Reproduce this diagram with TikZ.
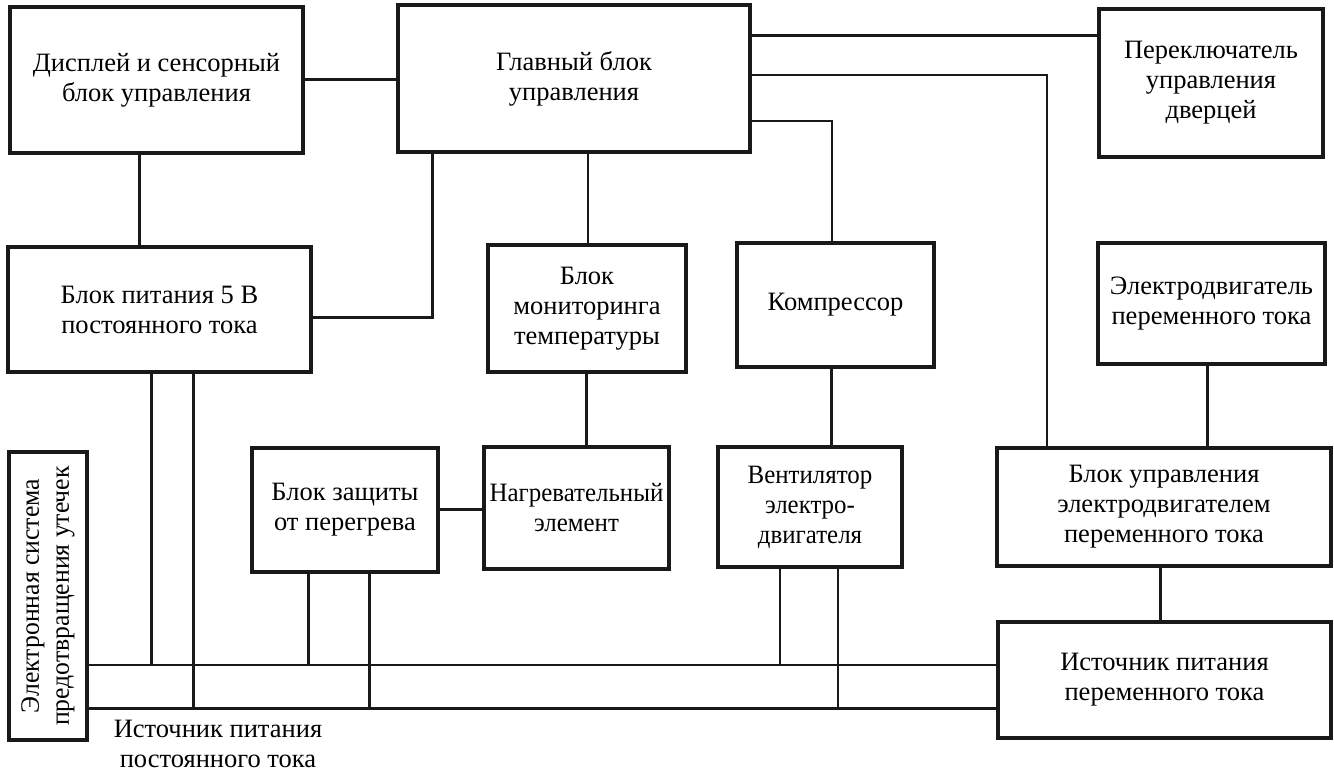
\documentclass[tikz,border=0pt]{standalone}
\usepackage{fontspec}
\usepackage{graphicx}
\setmainfont{Liberation Serif}
\newcommand{\narrow}[1]{\scalebox{0.94}[1]{#1}}
\begin{document}
\begin{tikzpicture}[x=1pt,y=-1pt,
  box/.style={draw=black!90, line width=3.2pt, inner sep=0pt, align=center, rectangle, text=black},
  wire/.style={draw=black!90, line width=3.0pt},
  thin wire/.style={draw=black!90, line width=2.6pt},
  font=\fontsize{26.5}{30}\selectfont]
\useasboundingbox (0,0) rectangle (1334,774);
\node[box, minimum width=293, minimum height=146] (disp) at (156.5,80) {Дисплей и сенсорный\\блок управления};
\node[box, minimum width=352, minimum height=147] (main) at (574,78.5) {Главный блок\\управления};
\node[box, minimum width=224, minimum height=148] (switch) at (1211,83) {Переключатель\\управления\\дверцей};
\node[box, minimum width=303, minimum height=125] (psu) at (159.5,309.5) {Блок питания 5 В\\постоянного тока};
\node[box, minimum width=198, minimum height=127] (mon) at (587,308.5) {Блок\\мониторинга\\температуры};
\node[box, minimum width=197, minimum height=124] (comp) at (835.5,305) {Компрессор};
\node[box, minimum width=227, minimum height=121] (acmotor) at (1211.5,303.5) {Электродвигатель\\переменного тока};
\node[box, minimum width=288, minimum height=78, rotate=90] (leak) at (48,596) {\scalebox{0.97}[1]{Электронная система}\\\scalebox{0.97}[1]{предотвращения утечек}};
\node[box, minimum width=186, minimum height=124] (overheat) at (345,510) {Блок защиты\\от перегрева};
\node[box, minimum width=185, minimum height=122] (heat) at (576.5,508) {\narrow{Нагревательный}\\\narrow{элемент}};
\node[box, minimum width=184, minimum height=120] (fan) at (810,507) {\narrow{Вентилятор}\\\narrow{электро-}\\\narrow{двигателя}};
\node[box, minimum width=334, minimum height=118] (acctrl) at (1164,507) {Блок управления\\электродвигателем\\переменного тока};
\node[box, minimum width=333, minimum height=116] (acsrc) at (1164.5,680) {Источник питания\\переменного тока};
\node[align=center, inner sep=0pt, text=black] (dclabel) at (218,744) {Источник питания\\постоянного тока};
% connectors
\draw[wire] (disp.east |- 0,79) -- (main.west |- 0,79);
\draw[wire] (disp.south -| 139,0) -- (psu.north -| 139,0);
\draw[wire] (main.east |- 0,35) -- (switch.west |- 0,35);
\draw[thin wire] (main.east |- 0,75) -- (1047,75) -- (acctrl.north -| 1047,0);
\draw[thin wire] (main.east |- 0,121) -- (832,121) -- (comp.north -| 832,0);
\draw[wire] (main.south -| 432,0) -- (432,317) -- (psu.east |- 0,317);
\draw[thin wire] (main.south -| 588,0) -- (mon.north -| 588,0);
\draw[wire] (mon.south -| 586,0) -- (heat.north -| 586,0);
\draw[wire] (comp.south -| 831,0) -- (fan.north -| 831,0);
\draw[wire] (overheat.east |- 0,509) -- (heat.west |- 0,509);
\draw[wire] (acmotor.south -| 1207,0) -- (acctrl.north -| 1207,0);
\draw[wire] (acctrl.south -| 1160,0) -- (acsrc.north -| 1160,0);
\coordinate (b1) at (0,665);
\coordinate (b2) at (0,708);
\draw[thin wire] (leak.south |- b1) -- (acsrc.west |- b1);
\draw[wire] (leak.south |- b2) -- (acsrc.west |- b2);
\draw[wire] (psu.south -| 151,0) -- (151,665);
\draw[wire] (psu.south -| 193,0) -- (193,708);
\draw[wire] (overheat.south -| 308,0) -- (308,665);
\draw[wire] (overheat.south -| 369,0) -- (369,708);
\draw[thin wire] (fan.south -| 780,0) -- (780,665);
\draw[thin wire] (fan.south -| 838,0) -- (838,708);
\end{tikzpicture}
\end{document}
